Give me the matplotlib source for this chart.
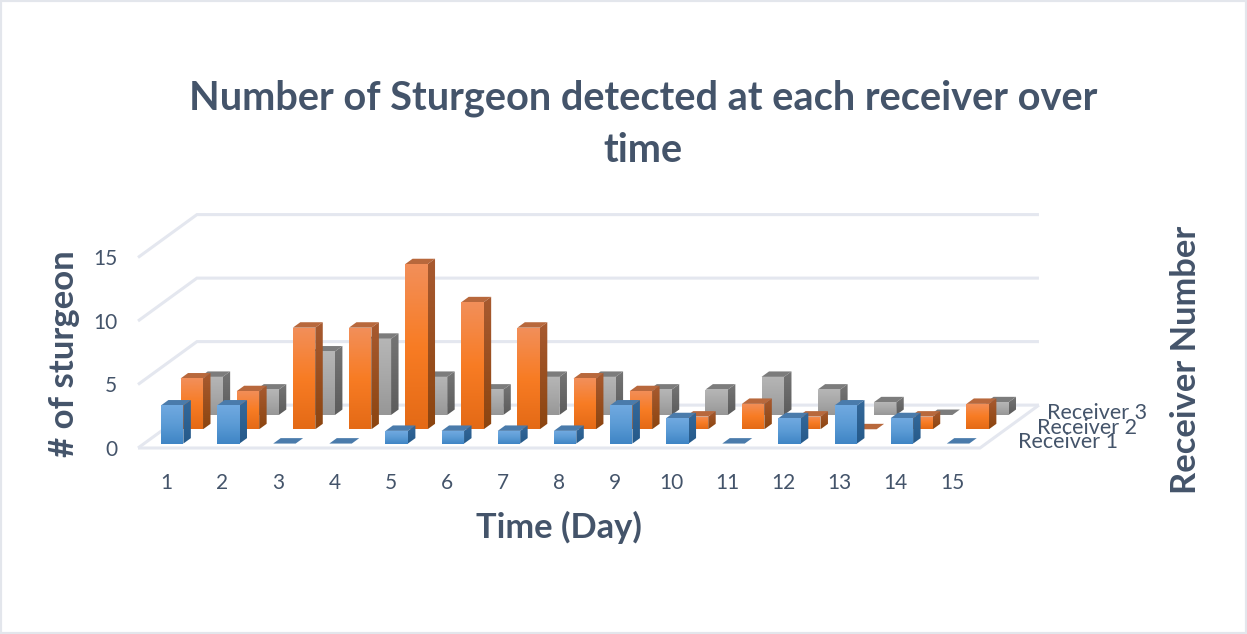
import numpy as np
import matplotlib
matplotlib.use('Agg')
import matplotlib.pyplot as plt
from matplotlib.colors import LinearSegmentedColormap
from matplotlib.patches import Polygon, Rectangle

# Values
days = list(range(1, 16))
receiver_1 = [3, 3, 0, 0, 1, 1, 1, 1, 3, 2, 0, 2, 3, 2, 0]
receiver_2 = [4, 3, 8, 8, 13, 10, 8, 4, 3, 1, 2, 1, 0, 1, 2]
receiver_3 = [3, 2, 5, 6, 3, 2, 3, 3, 2, 2, 3, 2, 1, 0, 1]
value_ticks = [0, 5, 10, 15]
receiver_names = ['Receiver 1', 'Receiver 2', 'Receiver 3']

# front (top to bottom), side (top to bottom), top
blue = (['#70a9e0', '#5b9bd5', '#3f85c5'], ['#34689a', '#255a8a'], '#4a7bab')
orange = (['#f28f5a', '#f87c24', '#e46a16'], ['#a85a30', '#8c4510'], '#b8683c')
grey = (['#b6b6b6', '#a8a8a8', '#979797'], ['#757575', '#5c5c5c'], '#7c7c7c')

TEXT = '#44546a'
GRID = '#e4e7ef'
FONT = 'Lato'

# oblique projection: one receiver row back moves the point this far on the page
DEPTH_X = 0.35
DEPTH_Y = 1.126
BAR_W = 0.4
BAR_D = 0.38

plt.rcParams['font.family'] = FONT

W, H = 1247, 634
fig = plt.figure(figsize=(W / 100, H / 100), dpi=100)
fig.patch.set_facecolor('white')
fig.add_artist(Rectangle((0, 0), 1, 1, transform=fig.transFigure, fill=False,
                         ec='#e3e6ec', lw=3))
ax = fig.add_axes([138 / W, (H - 448) / H, 842 / W, 190.5 / H])
ax.patch.set_visible(False)


def project(x, depth, value):
    return x + depth * DEPTH_X, value + depth * DEPTH_Y


def gradient_face(corners, colors, zorder):
    cmap = LinearSegmentedColormap.from_list('face', colors)
    xs, ys = zip(*corners)
    poly = Polygon(corners, closed=True, transform=ax.transData)
    im = ax.imshow(np.linspace(0, 1, 64).reshape(-1, 1), cmap=cmap, aspect='auto',
                   extent=(min(xs), max(xs), min(ys), max(ys)), origin='upper',
                   interpolation='bilinear', zorder=zorder)
    im.set_clip_path(poly)
    im.set_clip_box(fig.bbox)


def draw_bar(day, row, value, style, zorder):
    front, side, top = style
    x0 = day - 1 + (1 - BAR_W) / 2
    x1 = x0 + BAR_W
    d0 = row + (1 - BAR_D) / 2
    d1 = d0 + BAR_D
    top_face = [project(x0, d0, value), project(x1, d0, value),
                project(x1, d1, value), project(x0, d1, value)]
    ax.add_patch(Polygon(top_face, closed=True, fc=top, ec='none', zorder=zorder,
                         clip_on=False))
    if value == 0:
        return
    gradient_face([project(x1, d0, 0), project(x1, d1, 0),
                   project(x1, d1, value), project(x1, d0, value)], side, zorder)
    gradient_face([project(x0, d0, 0), project(x1, d0, 0),
                   project(x1, d0, value), project(x0, d0, value)], front, zorder + 0.1)


# back wall, side wall and floor grid
for v in value_ticks:
    bx, by = project(0, 3, v)
    ex, ey = project(15, 3, v)
    ax.plot([0, bx, ex], [v, by, ey], color=GRID, lw=2.2, clip_on=False, zorder=1,
            solid_joinstyle='miter', solid_capstyle='butt')
ax.plot([0, 15, project(15, 3, 0)[0]], [0, 0, project(15, 3, 0)[1]], color=GRID, lw=2.2,
        clip_on=False, zorder=1, solid_joinstyle='miter', solid_capstyle='butt')

# back row first so the nearer bars cover it
rows = [(2, receiver_3, grey), (1, receiver_2, orange), (0, receiver_1, blue)]
for row, values, style in rows:
    for day, value in zip(days, values):
        draw_bar(day, row, value, style, 10 - 3 * row)

ax.set_xlim(0, 15)
ax.set_ylim(0, 15)
ax.set_xticks([d - 0.5 for d in days], [str(d) for d in days])
ax.set_yticks(value_ticks, [str(v) for v in value_ticks])
ax.tick_params(axis='x', length=0, pad=18, labelsize=15, labelcolor=TEXT)
ax.tick_params(axis='y', length=0, pad=15, labelsize=15, labelcolor=TEXT)
for spine in ax.spines.values():
    spine.set_visible(False)


def page_text(x, y, s, **kw):
    fig.text(x / W, 1 - y / H, s, color=TEXT, va='center', **kw)


page_text(643, 98, 'Number of Sturgeon detected at each receiver over', fontsize=28.6,
          fontweight='bold', ha='center')
page_text(643, 150, 'time', fontsize=28.6, fontweight='bold', ha='center')
page_text(559, 527, 'Time (Day)', fontsize=24.8, fontweight='bold', ha='center')
page_text(64, 354, '# of sturgeon', fontsize=25, fontweight='bold', ha='center', rotation=90)
page_text(1186, 360, 'Receiver Number', fontsize=24.8, fontweight='bold', ha='center', rotation=90)
page_text(1018, 442, receiver_names[0], fontsize=15.5, ha='left')
page_text(1037, 428, receiver_names[1], fontsize=15.5, ha='left')
page_text(1047, 413, receiver_names[2], fontsize=15.5, ha='left')

fig.savefig('out.png', dpi=100)
